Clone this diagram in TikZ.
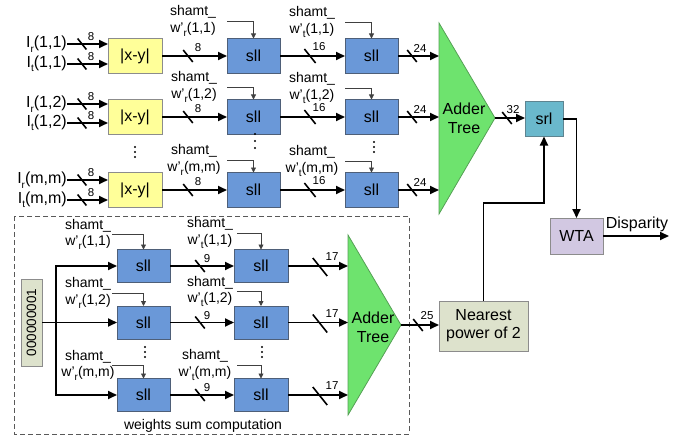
\documentclass[tikz,border=0pt]{standalone}
\usepackage{fontspec}
\setmainfont{Liberation Sans}
\usetikzlibrary{arrows.meta,calc}

\definecolor{absfill}{HTML}{FFFF99}
\definecolor{sllfill}{HTML}{6A98D8}
\definecolor{sllline}{HTML}{4E5F78}
\definecolor{addfill}{HTML}{6EE36E}
\definecolor{addline}{HTML}{55A055}
\definecolor{srlfill}{HTML}{6AB8CC}
\definecolor{srlline}{HTML}{5E8490}
\definecolor{wtafill}{HTML}{D2C8E2}
\definecolor{npfill}{HTML}{DDE2CC}
\definecolor{greyline}{HTML}{8C8C8C}

\tikzset{
  wire/.style={line width=1.8pt, -{Triangle[length=9pt,width=8pt]}},
  plainwire/.style={line width=1.8pt},
  ctl/.style={line width=0.8pt, draw=black!75, -{Triangle[length=5pt,width=5pt]}},
  slashline/.style={line width=1.6pt},
  box/.style={draw=greyline, line width=0.8pt, inner sep=0pt, outer sep=0pt,
    font=\fontsize{16}{18}\selectfont, align=center},
  absbox/.style={box, fill=absfill, minimum width=54pt, minimum height=35pt},
  sllbox/.style={box, fill=sllfill, draw=sllline, minimum width=53pt, minimum height=35pt},
  sllsmall/.style={sllbox, minimum height=33pt},
  srlbox/.style={box, fill=srlfill, draw=srlline, minimum width=38pt, minimum height=35pt},
  wtabox/.style={box, fill=wtafill, minimum width=53pt, minimum height=36pt},
  npbox/.style={box, fill=npfill, minimum width=89pt, minimum height=50pt},
  constbox/.style={box, fill=npfill, minimum width=21pt, minimum height=87pt,
    font=\fontsize{13.5}{15}\selectfont},
  addershape/.style={fill=addfill, draw=addline, line width=0.8pt},
  boxtxt/.style={inner sep=0pt, font=\fontsize{16}{19}\selectfont, align=center},
  inlab/.style={inner sep=0pt, font=\fontsize{16}{18}\selectfont},
  shlab/.style={inner sep=0pt, font=\fontsize{14}{16.5}\selectfont, align=center},
  num/.style={inner sep=0pt, font=\fontsize{11.5}{12}\selectfont},
  dashbox/.style={draw=black!65, line width=0.8pt, dash pattern=on 5pt off 3pt},
}

% lowered index letter (image r / t)
\newcommand\idx[1]{\raisebox{-0.28em}{\fontsize{10}{10}\selectfont #1}}
% bus-width mark: name, x, y, width label, half height, label dx, label dy
\newcommand\busmark[7]{%
  \draw[slashline] (#2-#5*0.8,#3-#5) -- (#2+#5*0.8,#3+#5);
  \node[num] (#1) at (#2+#6,#3+#7) {#4};}
% three stacked dots
\newcommand\dotcol[3]{%
  \fill (#1,#2-#3) circle[radius=1.1pt] (#1,#2) circle[radius=1.1pt]
        (#1,#2+#3) circle[radius=1.1pt];}

\begin{document}
\begin{tikzpicture}[x=1pt,y=-1pt]
\useasboundingbox (0,0) rectangle (683,436);

% ---------------- cost path: |x-y| and two shifts per pixel ----------------
\node[absbox] (xy1) at (135,56)  {|x-y|};
\node[absbox] (xy2) at (135,117) {|x-y|};
\node[absbox] (xy3) at (135,190) {|x-y|};

\node[sllbox] (sa1) at (253.5,56)  {sll};
\node[sllbox] (sa2) at (253.5,117) {sll};
\node[sllbox] (sa3) at (253.5,190) {sll};

\node[sllbox] (sb1) at (371.5,56)  {sll};
\node[sllbox] (sb2) at (371.5,117) {sll};
\node[sllbox] (sb3) at (371.5,190) {sll};

% pixel inputs
\node[inlab, anchor=east] (ir1) at (67,44)  {I\idx{r}(1,1)};
\node[inlab, anchor=east] (it1) at (67,64)  {I\idx{t}(1,1)};
\node[inlab, anchor=east] (ir2) at (67,104) {I\idx{r}(1,2)};
\node[inlab, anchor=east] (it2) at (67,123) {I\idx{t}(1,2)};
\node[inlab, anchor=east] (ir3) at (67,180) {I\idx{r}(m,m)};
\node[inlab, anchor=east] (it3) at (67,200) {I\idx{t}(m,m)};

\foreach \n/\b in {ir1/xy1,it1/xy1,ir2/xy2,it2/xy2,ir3/xy3,it3/xy3}
  \draw[wire] (\n.east) -- (\n.east -| \b.west);

\busmark{w8a}{82}{44}{8}{5.5}{9}{-7}
\busmark{w8b}{82}{64}{8}{5.5}{9}{-7}
\busmark{w8c}{82}{104}{8}{5.5}{9}{-7}
\busmark{w8d}{82}{123}{8}{5.5}{9}{-7}
\busmark{w8e}{82}{180}{8}{5.5}{9}{-7}
\busmark{w8f}{82}{200}{8}{5.5}{9}{-7}

% |x-y| -> sll -> sll
\foreach \i in {1,2,3} {
  \draw[wire] (xy\i.east) -- (sa\i.west);
  \draw[wire] (sa\i.east) -- (sb\i.west);
}
\busmark{w8g}{188}{56}{8}{6}{10}{-8}
\busmark{w8h}{188}{117}{8}{6}{10}{-8}
\busmark{w8i}{188}{190}{8}{6}{10}{-8}
\busmark{w16a}{310}{56}{16}{7}{9}{-9}
\busmark{w16b}{310}{117}{16}{7}{9}{-9}
\busmark{w16c}{310}{190}{16}{7}{9}{-9}

% shift amounts
\node[shlab] (sha1) at (193,21)  {shamt\_\\w'\idx{r}(1,1)};
\node[shlab] (sha2) at (194,87)  {shamt\_\\w'\idx{r}(1,2)};
\node[shlab] (sha3) at (194,160) {shamt\_\\w'\idx{r}(m,m)};
\node[shlab] (shb1) at (312,22)  {shamt\_\\w'\idx{t}(1,1)};
\node[shlab] (shb2) at (312,88)  {shamt\_\\w'\idx{t}(1,2)};
\node[shlab] (shb3) at (312,161) {shamt\_\\w'\idx{t}(m,m)};
\foreach \i in {1,2,3} {
  \draw[ctl] (sa\i.west |- sha\i) -| (sa\i.north);
  \draw[ctl] (sb\i.west |- shb\i) -| (sb\i.north);
}

\dotcol{135}{152}{5}
\dotcol{255}{141}{7}
\dotcol{374}{147}{5}

% upper adder tree
\coordinate (adAtop) at (439,23);
\coordinate (adAtip) at (495,118);
\coordinate (adAbot) at (439,214);
\draw[addershape] (adAtop) -- (adAtip) -- (adAbot) -- cycle;
\node[boxtxt] (adAtxt) at (464,118) {Adder\\Tree};
\foreach \i in {1,2,3}
  \draw[wire] (sb\i.east) -- (sb\i.east -| adAtop);
\busmark{w24a}{412}{56}{24}{6}{8}{-8}
\busmark{w24b}{412}{117}{24}{6}{8}{-8}
\busmark{w24c}{412}{190}{24}{6}{8}{-8}

% normalisation and decision
\node[srlbox] (srl) at (544,119) {srl};
\draw[wire] (adAtip) -- (adAtip -| srl.west);
\busmark{w32}{507}{118}{32}{6}{6}{-8}

\node[wtabox] (wta) at (576.5,236) {WTA};
\draw[wire] (srl.east) -| (wta.north);
\coordinate (dispout) at (669,236);
\draw[wire] (wta.east) -- (dispout);
\node[boxtxt] (displab) at (637,224) {Disparity};

% ---------------- weights sum computation ----------------
\draw[dashbox] (14,216) rectangle (409,434);
\node[shlab] (wsc) at (203,426) {weights sum computation};

\node[constbox] (one) at (31.5,322.5) {\rotatebox{90}{000000001}};

\node[sllsmall] (sc1) at (143.5,266)   {sll};
\node[sllsmall] (sc2) at (143.5,322.5) {sll};
\node[sllsmall] (sc3) at (143.5,395)   {sll};
\node[sllsmall, minimum width=54pt] (sd1) at (261,266)   {sll};
\node[sllsmall, minimum width=54pt] (sd2) at (261,322.5) {sll};
\node[sllsmall, minimum width=54pt] (sd3) at (261,395)   {sll};

\coordinate (trunk) at (56,322.5);
\draw[wire] (one.east) -- (sc2.west);
\draw[wire] (trunk) |- (sc1.west);
\draw[wire] (trunk) |- (sc3.west);

\foreach \i in {1,2,3}
  \draw[wire] (sc\i.east) -- (sd\i.west);
\busmark{w9a}{200}{266}{9}{6}{7}{-7}
\busmark{w9b}{200}{322.5}{9}{6}{7}{-7}
\busmark{w9c}{200}{395}{9}{6}{7}{-7}

\node[shlab] (shc1) at (88,234.5) {shamt\_\\w'\idx{r}(1,1)};
\node[shlab] (shc2) at (88,293)   {shamt\_\\w'\idx{r}(1,2)};
\node[shlab] (shc3) at (88,365.5) {shamt\_\\w'\idx{r}(m,m)};
\node[shlab] (shd1) at (210,233)  {shamt\_\\w'\idx{t}(1,1)};
\node[shlab] (shd2) at (210,291.5){shamt\_\\w'\idx{t}(1,2)};
\node[shlab] (shd3) at (205,365)  {shamt\_\\w'\idx{t}(m,m)};
\foreach \i in {1,2,3} {
  \draw[ctl] ($(sc\i.west |- shc\i)+(-5,0)$) -| (sc\i.north);
  \draw[ctl] ($(sd\i.west |- shd\i)+(3,0)$) -| (sd\i.north);
}

\dotcol{145}{352}{5}
\dotcol{262}{352}{5}

% lower adder tree
\coordinate (adBtop) at (348,235);
\coordinate (adBtip) at (401,325);
\coordinate (adBbot) at (348,415);
\draw[addershape] (adBtop) -- (adBtip) -- (adBbot) -- cycle;
\node[boxtxt] (adBtxt) at (373,327) {Adder\\Tree};
\foreach \i in {1,2,3}
  \draw[wire] (sd\i.east) -- (sd\i.east -| adBtop);
\busmark{w17a}{320}{267}{17}{9}{12}{-10}
\busmark{w17b}{320}{323.5}{17}{9}{12}{-10}
\busmark{w17c}{320}{396}{17}{9}{12}{-10}

% nearest power of two feeds the right shift amount
\node[npbox] (np) at (483.5,326) {Nearest\\power of 2};
\draw[wire] (adBtip) -- (adBtip -| np.west);
\busmark{w25}{418}{325}{25}{6}{9}{-9}

\coordinate (fb) at (500,203);
\draw[wire] (np.north) -- (np.north |- fb) -| (srl.south);
\end{tikzpicture}
\end{document}
